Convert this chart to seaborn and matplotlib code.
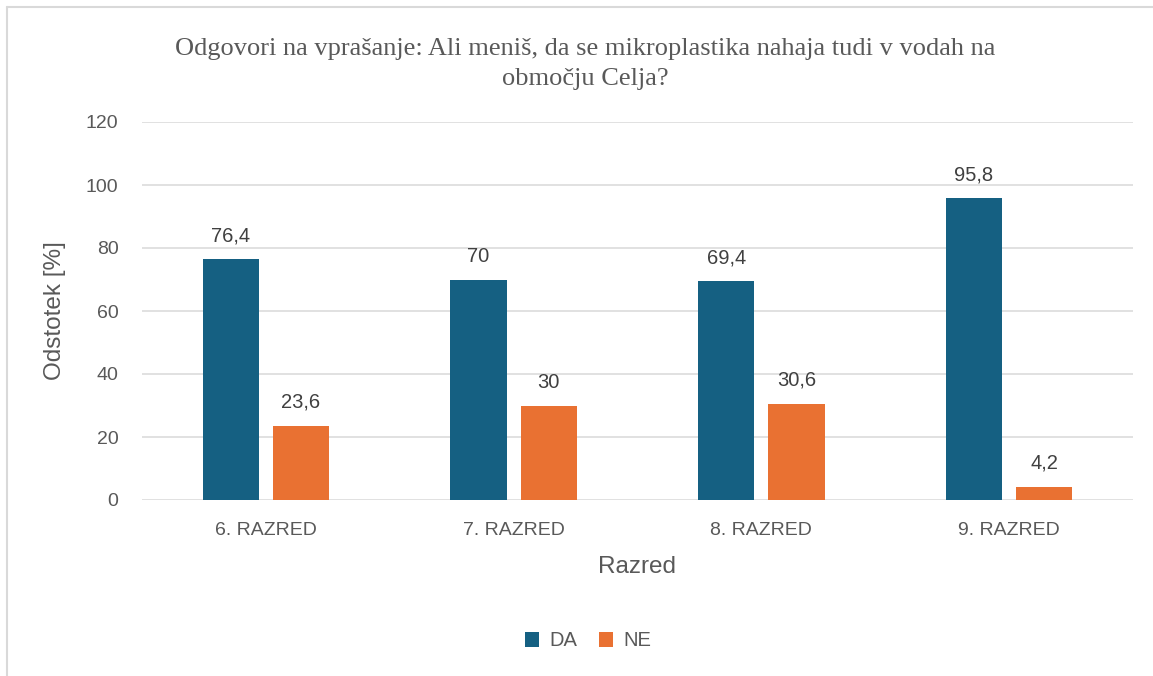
import matplotlib
matplotlib.use("Agg")
import pandas as pd
import matplotlib.pyplot as plt
from matplotlib.lines import Line2D
from matplotlib.patches import Patch
import seaborn as sns

# data
razredi = ["6. RAZRED", "7. RAZRED", "8. RAZRED", "9. RAZRED"]
odgovori = ["DA", "NE"]
da_vals = [76.4, 70, 69.4, 95.8]
ne_vals = [23.6, 30, 30.6, 4.2]
y_ticks = [0, 20, 40, 60, 80, 100, 120]

COLORS = {"DA": "#156082", "NE": "#E97132"}
GRAY = "#595959"

df = pd.DataFrame({
    "razred": razredi * 2,
    "odgovor": ["DA"] * len(razredi) + ["NE"] * len(razredi),
    "odstotek": da_vals + ne_vals,
})

sns.set_theme(style="white")
plt.rcParams["font.family"] = ["Liberation Sans", "DejaVu Sans"]

fig = plt.figure(figsize=(11.53, 6.76), dpi=100)
ax = fig.add_axes([142 / 1153, 1 - 500 / 676, (1133 - 142) / 1153, (500 - 122) / 676])

sns.barplot(data=df, x="razred", y="odstotek", hue="odgovor", order=razredi,
            hue_order=odgovori, palette=COLORS, width=0.567, gap=0.2,
            linewidth=0, saturation=1, ax=ax, legend=False)

ax.set_xlim(-0.5, 3.5)
ax.set_ylim(0, 120)
ax.set_yticks(y_ticks)
ax.yaxis.grid(True, color="#D9D9D9", linewidth=1.1)
ax.set_axisbelow(True)
for s in ax.spines.values():
    s.set_visible(False)
ax.tick_params(axis="both", length=0, labelsize=14, labelcolor=GRAY)
ax.tick_params(axis="y", pad=17)
ax.tick_params(axis="x", pad=16)

ax.set_xlabel("Razred", fontsize=17.5, color=GRAY, labelpad=12)
ax.set_ylabel("Odstotek [%]", fontsize=17.5, color=GRAY, labelpad=14)

# value labels with decimal comma
for cont, vals in zip(ax.containers, [da_vals, ne_vals]):
    labels = [f"{v:g}".replace(".", ",") for v in vals]
    ax.bar_label(cont, labels=labels, padding=10, fontsize=14.5, color="#404040")

fig.text(585 / 1153, 1 - 64 / 676,
         "Odgovori na vprašanje: Ali meniš, da se mikroplastika nahaja tudi v vodah na\nobmočju Celja?",
         ha="center", va="center", fontsize=19, color=GRAY,
         family="Liberation Serif", linespacing=1.5)

handles = [Patch(facecolor=COLORS[k], edgecolor="none") for k in odgovori]
fig.legend(handles, odgovori, loc="center", bbox_to_anchor=(588 / 1153, 1 - 641 / 676),
           ncol=2, frameon=False, fontsize=14.5, handlelength=0.7, handleheight=0.7,
           handletextpad=0.5, columnspacing=1.1, labelcolor=GRAY)

# outer frame (top and left only visible in the original crop)
fig.add_artist(Line2D([7 / 1153, 1], [1 - 7 / 676, 1 - 7 / 676], transform=fig.transFigure,
                      color="#D9D9D9", linewidth=1.5))
fig.add_artist(Line2D([7 / 1153, 7 / 1153], [0, 1 - 7 / 676], transform=fig.transFigure,
                      color="#D9D9D9", linewidth=1.5))

fig.savefig("out.png", dpi=100, facecolor="white")
